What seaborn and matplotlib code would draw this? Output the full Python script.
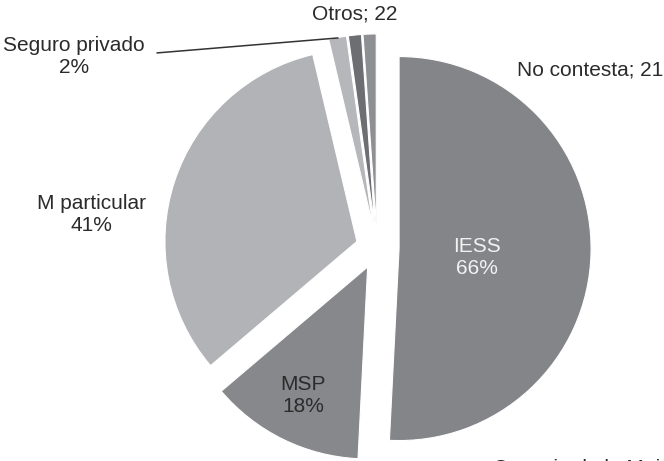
import seaborn as sns
import matplotlib.pyplot as plt

# datos (proporciones)
categorias = ['IESS', 'MSP', 'M particular', 'Seguro privado', 'Otros', 'No contesta']
valores = [50.8, 13.0, 32.5, 1.5, 1.1, 1.1]
etiquetas = ['IESS\n66%', 'MSP\n18%', 'M particular\n41%', 'Seguro privado\n2%', 'Otros; 22', 'No contesta; 21']
colores = ['#848589', '#87888c', '#b2b3b7', '#b6b7ba', '#6d6e72', '#8e8f93']
separacion = [0.115, 0.11, 0.11, 0.115, 0.115, 0.115]

sns.set_theme(style='white')
plt.rcParams['font.family'] = ['Liberation Sans', 'DejaVu Sans']

fig = plt.figure(figsize=(6.64, 4.61), dpi=100)
ax = fig.add_axes([0, 0, 1, 1])

ax.pie(valores, colors=colores, explode=separacion, startangle=90,
       counterclock=False, radius=1,
       wedgeprops=dict(edgecolor='white', linewidth=0.8))

# escala: 192 px por unidad, centro en (377, 248) px
ax.set_xlim(-377 / 192, (664 - 377) / 192)
ax.set_ylim(-(461 - 248) / 192, 248 / 192)
ax.set_aspect('auto')
ax.axis('off')

fs = 15
txt = '#2b2b2b'
ax.text(0.521, -0.052, etiquetas[0], ha='center', va='center', fontsize=fs, color='#f2f2f2')
ax.text(-0.385, -0.766, etiquetas[1], ha='center', va='center', fontsize=fs, color=txt)
ax.text(-1.486, 0.177, etiquetas[2], ha='center', va='center', fontsize=fs, color=txt)
ax.text(-1.578, 0.995, etiquetas[3], ha='center', va='center', fontsize=fs, color=txt)
ax.plot([-1.146, -0.203], [1.016, 1.094], color='#333333', linewidth=1.1)
ax.text(-0.115, 1.219, etiquetas[4], ha='center', va='center', fontsize=fs, color=txt)
ax.text(1.109, 0.927, etiquetas[5], ha='center', va='center', fontsize=fs, color=txt)

# nota de fuente cortada en el borde inferior (como en el original)
ax.text(0.604, -1.097, 'Consejo de la Mujer', ha='left', va='top', fontsize=fs, color=txt)

fig.savefig('out.png', dpi=100)
